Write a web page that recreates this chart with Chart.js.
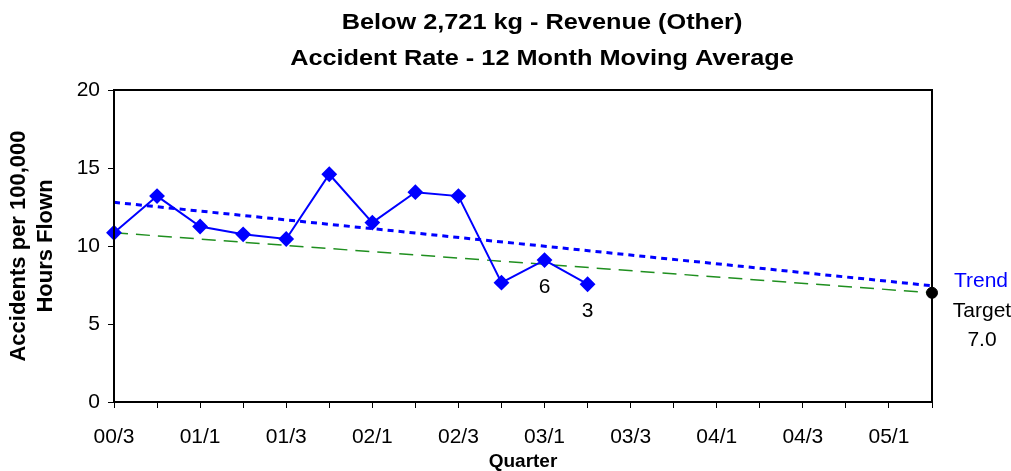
<!DOCTYPE html>
<html>
<head>
<meta charset="utf-8">
<script src="https://cdn.jsdelivr.net/npm/chart.js@4"></script>
<style>
  body { margin: 0; background: #fff; }
</style>
</head>
<body>
<canvas id="accidentChart" width="1011" height="471"></canvas>
<script>
// quarters along the x axis, only every second one gets a label
const quarters = ['00/3', '00/4', '01/1', '01/2', '01/3', '01/4', '02/1', '02/2', '02/3', '02/4',
  '03/1', '03/2', '03/3', '03/4', '04/1', '04/2', '04/3', '04/4', '05/1', '05/2'];

// 12 month moving average accident rate
const accidentRate = [10.85, 13.2, 11.25, 10.75, 10.45, 14.6, 11.5, 13.45, 13.2, 7.65, 9.1, 7.55];
// accident counts written under the last two points
const accidentCounts = ['', '', '', '', '', '', '', '', '', '', '6', '3'];

// trend line and target line: value at first quarter and at last quarter
const trendEnds = [12.8, 7.45];
const targetEnds = [10.85, 7.0];
const targetValue = 7.0;

const yTicks = [0, 5, 10, 15, 20];

const last = quarters.length - 1;
const endsToSeries = ends => quarters.map((q, i) => i === 0 ? ends[0] : (i === last ? ends[1] : null));
const targetPoint = quarters.map((q, i) => i === last ? targetValue : null);

const titleLines = ['Below 2,721 kg - Revenue (Other)', 'Accident Rate - 12 Month Moving Average'];
const fontFamily = '"Liberation Sans", Arial, sans-serif';

// title, frame and the small text labels next to the points
const extrasPlugin = {
  id: 'extras',
  afterDraw(chart) {
    const ctx = chart.ctx;
    const area = chart.chartArea;

    ctx.save();
    ctx.strokeStyle = '#000';
    ctx.lineWidth = 2;
    ctx.strokeRect(area.left, area.top, area.right - area.left, area.bottom - area.top);
    ctx.restore();

    // chart title (text in the original is a bit stretched sideways)
    ctx.save();
    ctx.fillStyle = '#000';
    ctx.font = 'bold 22px ' + fontFamily;
    ctx.textAlign = 'center';
    ctx.textBaseline = 'middle';
    titleLines.forEach((line, i) => {
      ctx.save();
      ctx.translate(542, 23 + i * 36);
      ctx.scale(1.15, 1);
      ctx.fillText(line, 0, 0);
      ctx.restore();
    });
    ctx.restore();

    ctx.save();
    ctx.font = '21px ' + fontFamily;
    ctx.textAlign = 'center';
    ctx.textBaseline = 'middle';
    ctx.fillStyle = '#000';

    const rateMeta = chart.getDatasetMeta(1);
    rateMeta.data.forEach((pt, i) => {
      if (accidentCounts[i]) {
        ctx.fillText(accidentCounts[i], pt.x, pt.y + 27);
      }
    });

    const tgt = chart.getDatasetMeta(0).data[last];
    ctx.fillStyle = '#0000FF';
    ctx.fillText('Trend', tgt.x + 49, tgt.y - 12);
    ctx.fillStyle = '#000';
    ctx.fillText('Target', tgt.x + 50, tgt.y + 18);
    ctx.fillText(targetValue.toFixed(1), tgt.x + 50, tgt.y + 47);
    ctx.restore();
  }
};

const ctx = document.getElementById('accidentChart');

new Chart(ctx, {
  type: 'line',
  data: {
    labels: quarters,
    datasets: [
      {
        label: 'Target',
        data: targetPoint,
        showLine: false,
        pointStyle: 'circle',
        pointRadius: 5.5,
        pointBackgroundColor: '#000',
        pointBorderColor: '#000',
        clip: false
      },
      {
        label: 'Accident Rate',
        data: accidentRate,
        borderColor: '#0000FF',
        borderWidth: 2,
        pointStyle: 'rectRot',
        pointRadius: 6.5,
        pointBackgroundColor: '#0000FF',
        pointBorderColor: '#0000FF',
        tension: 0,
        clip: false
      },
      {
        label: 'Trend',
        data: endsToSeries(trendEnds),
        spanGaps: true,
        borderColor: '#0000FF',
        borderWidth: 3,
        borderDash: [6, 5],
        pointRadius: 0
      },
      {
        label: 'Target line',
        data: endsToSeries(targetEnds),
        spanGaps: true,
        borderColor: '#1f8f1f',
        borderWidth: 1.5,
        borderDash: [14, 8],
        pointRadius: 0
      }
    ]
  },
  options: {
    responsive: false,
    devicePixelRatio: 1,
    animation: false,
    layout: {
      padding: { top: 90, right: 79, bottom: 0, left: 0 }
    },
    plugins: {
      legend: { display: false },
      tooltip: { enabled: false },
      title: { display: false }
    },
    scales: {
      x: {
        offset: false,
        afterFit: s => { s.height = 69; },
        border: { color: '#000', width: 2 },
        grid: { drawOnChartArea: false, color: '#000', tickLength: 6 },
        ticks: {
          autoSkip: false,
          maxRotation: 0,
          padding: 17,
          color: '#000',
          font: { family: fontFamily, size: 21 },
          callback: (v, i) => i % 2 === 0 ? quarters[i] : ''
        },
        title: {
          display: true,
          text: 'Quarter',
          color: '#000',
          padding: 0,
          font: { family: fontFamily, size: 19, weight: 'bold', lineHeight: 1 }
        }
      },
      y: {
        min: yTicks[0],
        max: yTicks[yTicks.length - 1],
        afterFit: s => { s.width = 114; },
        afterBuildTicks: s => { s.ticks = yTicks.map(v => ({ value: v })); },
        border: { color: '#000', width: 2 },
        grid: { drawOnChartArea: false, color: '#000', tickLength: 6 },
        ticks: {
          padding: 8,
          color: '#000',
          font: { family: fontFamily, size: 21 }
        },
        title: {
          display: true,
          text: ['Accidents per 100,000', 'Hours Flown'],
          color: '#000',
          padding: { top: 5 },
          font: { family: fontFamily, size: 22, weight: 'bold', lineHeight: 1.23 }
        }
      }
    }
  },
  plugins: [extrasPlugin]
});
</script>
</body>
</html>
